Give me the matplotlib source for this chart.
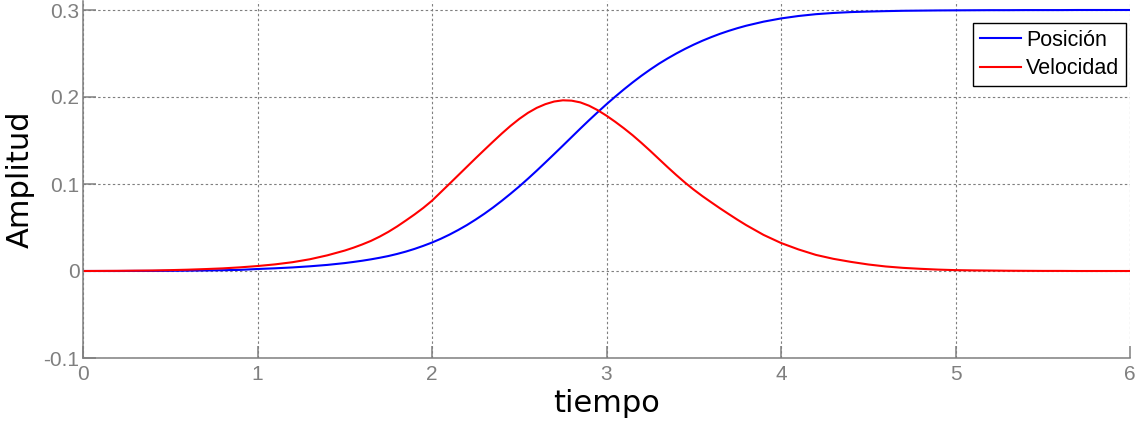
import matplotlib
matplotlib.use("Agg")
import matplotlib.pyplot as plt

# Time samples (s): 0.1 steps in the tails, 0.05 steps in the middle
tiempo = [
    0.0, 0.1, 0.2, 0.3, 0.4, 0.5, 0.6, 0.7, 0.8, 0.9, 1.0, 1.1, 1.2, 1.3, 1.4, 1.5,
    1.55, 1.6, 1.65, 1.7, 1.75, 1.8, 1.85, 1.9, 1.95, 2.0, 2.05, 2.1, 2.15, 2.2,
    2.25, 2.3, 2.35, 2.4, 2.45, 2.5, 2.55, 2.6, 2.65, 2.7, 2.75, 2.8, 2.85, 2.9,
    2.95, 3.0, 3.05, 3.1, 3.15, 3.2, 3.25, 3.3, 3.35, 3.4, 3.45, 3.5, 3.55, 3.6,
    3.65, 3.7, 3.75, 3.8,
    3.9, 4.0, 4.1, 4.2, 4.3, 4.4, 4.5, 4.6, 4.7, 4.8, 4.9, 5.0, 5.1, 5.2, 5.3,
    5.4, 5.5, 5.6, 5.7, 5.8, 5.9, 6.0,
]

# Velocity (red)
velocidad = [
    0.0000, 0.0001, 0.0002, 0.0004, 0.0006, 0.0010, 0.0015, 0.0022, 0.0030, 0.0042,
    0.0057, 0.0076, 0.0101, 0.0135, 0.0180, 0.0235,
    0.0268, 0.0305, 0.0346, 0.0395, 0.0450, 0.0512, 0.0580, 0.0650, 0.0725, 0.0808,
    0.0905, 0.1002, 0.1100, 0.1198, 0.1296, 0.1392, 0.1487, 0.1580, 0.1668, 0.1748,
    0.1818, 0.1875, 0.1918, 0.1948, 0.1962, 0.1958, 0.1938, 0.1900, 0.1848, 0.1785,
    0.1715, 0.1640, 0.1560, 0.1473, 0.1382, 0.1288, 0.1194, 0.1103, 0.1016, 0.0935,
    0.0860, 0.0790, 0.0721, 0.0655, 0.0590, 0.0528,
    0.0415, 0.0322, 0.0248, 0.0185, 0.0140, 0.0105, 0.0075, 0.0052, 0.0036, 0.0025,
    0.0016, 0.0010, 0.0007, 0.0005, 0.0003, 0.0002, 0.0001, 0.0001, 0.0000, 0.0000,
    0.0000, 0.0000,
]

# Position (blue)
posicion = [
    0.0000, 0.0000, 0.0000, 0.0001, 0.0001, 0.0002, 0.0004, 0.0006, 0.0009, 0.0013,
    0.0023, 0.0031, 0.0041, 0.0054, 0.0070, 0.0091,
    0.0104, 0.0118, 0.0134, 0.0152, 0.0172, 0.0196, 0.0223, 0.0254, 0.0289, 0.0327,
    0.0370, 0.0418, 0.0471, 0.0528, 0.0591, 0.0658, 0.0730, 0.0807, 0.0888, 0.0972,
    0.1061, 0.1153, 0.1248, 0.1344, 0.1441, 0.1539, 0.1637, 0.1733, 0.1826, 0.1917,
    0.2004, 0.2088, 0.2168, 0.2244, 0.2315, 0.2382, 0.2443, 0.2500, 0.2553, 0.2602,
    0.2647, 0.2688, 0.2726, 0.2760, 0.2791, 0.2819,
    0.2866, 0.2903, 0.2931, 0.2952, 0.2966, 0.2976, 0.2982, 0.2987, 0.2991, 0.2993,
    0.2995, 0.2996, 0.2997, 0.2998, 0.2998, 0.2999, 0.2999, 0.2999, 0.3000, 0.3000,
    0.3000, 0.3000,
]

xticks = [0, 1, 2, 3, 4, 5, 6]
yticks = [-0.1, 0, 0.1, 0.2, 0.3]
yticklabels = ["-0.1", "0", "0.1", "0.2", "0.3"]

W, H = 1146, 422
fig = plt.figure(figsize=(W / 100, H / 100), dpi=100)
ax = fig.add_axes([83 / W, 1 - 358 / H, (1130 - 83) / W, (358 - 1.3) / H])

ax.plot(tiempo, posicion, color=(0, 0, 1), lw=1.5, label="Posición")
ax.plot(tiempo, velocidad, color=(1, 0, 0), lw=1.5, label="Velocidad")

ax.set_xlim(0, 6)
ax.set_ylim(-0.1, 0.31)
ax.set_xticks(xticks)
ax.set_xticklabels([str(v) for v in xticks])
ax.set_yticks(yticks)
ax.set_yticklabels(yticklabels)

gray = "#7f7f7f"
for s in ["top", "right"]:
    ax.spines[s].set_visible(False)
for s in ["left", "bottom"]:
    ax.spines[s].set_color(gray)
    ax.spines[s].set_linewidth(1.1)

ax.grid(True, color=gray, linestyle=(0, (2.2, 2.2)), linewidth=0.8)
ax.set_axisbelow(True)
ax.tick_params(direction="in", length=9, width=1.1, color=gray,
               labelcolor=gray, labelsize=15)
ax.tick_params(axis="x", pad=5)
ax.tick_params(axis="y", pad=2.5)
for lab in ax.get_xticklabels() + ax.get_yticklabels():
    lab.set_fontfamily("Liberation Sans")

ax.set_xlabel("tiempo", fontsize=22, family="DejaVu Sans", color="black", labelpad=4)
ax.set_ylabel("Amplitud", fontsize=22, family="DejaVu Sans", color="black", labelpad=6)

leg = ax.legend(loc="upper right", bbox_to_anchor=(0.996, 0.939),
                prop={"family": "Liberation Sans", "size": 15.5},
                frameon=True, fancybox=False, edgecolor="black", framealpha=1,
                handlelength=1.9, handletextpad=0.25, labelspacing=0.35,
                borderpad=0.3, borderaxespad=0)
leg.get_frame().set_linewidth(1.0)

fig.savefig("out.png", dpi=100)
